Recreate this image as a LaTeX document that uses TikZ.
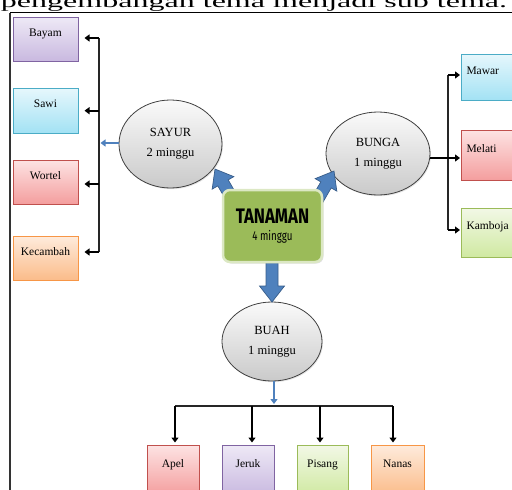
\documentclass[tikz,border=0pt]{standalone}
\usepackage{fontspec}
\setmainfont{Liberation Serif}
\newfontfamily\tanfont{Fira Sans}
\usetikzlibrary{arrows.meta,shadows,shapes.geometric}
\definecolor{pBorder}{HTML}{8064A2}\definecolor{pTop}{HTML}{EEE9F6}\definecolor{pBot}{HTML}{C9B9E0}
\definecolor{bBorder}{HTML}{4BACC6}\definecolor{bTop}{HTML}{E6F7FC}\definecolor{bBot}{HTML}{A3E2F4}
\definecolor{rBorder}{HTML}{C0504D}\definecolor{rTop}{HTML}{FDE3E3}\definecolor{rBot}{HTML}{F49E9E}
\definecolor{oBorder}{HTML}{F79646}\definecolor{oTop}{HTML}{FEEBDC}\definecolor{oBot}{HTML}{FBBC8A}
\definecolor{gBorder}{HTML}{9BBB59}\definecolor{gTop}{HTML}{F2F8E6}\definecolor{gBot}{HTML}{D0E9A2}
\definecolor{arrBlue}{HTML}{4F81BD}\definecolor{arrEdge}{HTML}{385D8A}
\definecolor{tanFill}{HTML}{9BBB59}\definecolor{tanEdge}{HTML}{DCE8C4}
\tikzset{
  leaf/.style={draw=#1Border, line width=1pt, top color=#1Top, bottom color=#1Bot,
    inner sep=0pt, text height=8pt, text depth=14pt, text=black,
    font=\fontsize{11.5}{12}\selectfont,
    drop shadow={opacity=0.2, shadow xshift=1pt, shadow yshift=-1.2pt}},
  leftleaf/.style={leaf=#1, text width=58pt, align=left, inner xsep=5pt, anchor=west},
  ell/.style={ellipse, draw=black!75, line width=0.8pt, top color=gray!4, bottom color=gray!42,
    align=center, inner sep=0pt, text=black, font=\fontsize{12.5}{20}\selectfont,
    drop shadow={opacity=0.2, shadow xshift=1pt, shadow yshift=-1.2pt}},
  tanbox/.style={rounded corners=7pt, fill=tanFill, draw=tanEdge, line width=2.5pt,
    align=center, inner sep=0pt,
    drop shadow={opacity=0.25, shadow xshift=1.5pt, shadow yshift=-1.5pt}},
  blockarr/.style={fill=arrBlue, draw=arrEdge, line width=0.7pt, line join=miter},
  blk/.style={draw=black, line width=1.6pt, -{Triangle[length=5pt,width=7pt]}},
  spine/.style={draw=black!85, line width=1.3pt},
  bluearr/.style={draw=arrBlue, line width=1.8pt, -{Triangle[length=5pt,width=7pt]}}
}
% block arrow: #1 tail point, #2 angle, #3 length
\newcommand{\blockarrowdraw}[3]{%
  \begin{scope}[shift={#1}, rotate=#2]
    \path[blockarr] (0,-6) -- (#3-16,-6) -- (#3-16,-12.5) -- (#3,0) -- (#3-16,12.5)
      -- (#3-16,6) -- (0,6) -- cycle;
  \end{scope}}
\begin{document}
\begin{tikzpicture}[x=1pt,y=-1pt]
\useasboundingbox (0,0) rectangle (512,490);
% title (cut off at top)
\node[anchor=base, inner sep=0pt] (title) at (254,7)
  {\scalebox{2.67}[1.5]{\fontsize{12}{12}\selectfont pengembangan tema menjadi sub tema.}};
% frame
\draw[line width=1.3pt] (10,12.5) -- (512,12.5);
\draw[line width=2pt, black!80] (10,12.5) -- (10,490);

% left leaves
\node[leaf=p, minimum width=65pt, minimum height=44pt] (bayam) at (45.5,39) {Bayam};
\node[leaf=b, minimum width=65pt, minimum height=45pt] (sawi) at (45.5,110.5) {Sawi};
\node[leaf=r, minimum width=65pt, minimum height=44pt] (wortel) at (45.5,182) {Wortel};
\node[leaf=o, minimum width=65pt, minimum height=44pt] (kecambah) at (45.5,258) {Kecambah};

% right leaves
\node[leftleaf=b, minimum height=46pt] (mawar) at (461,77) {Mawar};
\node[leftleaf=r, minimum height=50pt] (melati) at (461,155) {Melati};
\node[leftleaf=g, minimum height=49pt] (kamboja) at (461,232.5) {Kamboja};

% bottom leaves
\node[leaf=r, minimum width=52pt, minimum height=50pt] (apel) at (173,470) {Apel};
\node[leaf=p, minimum width=52pt, minimum height=50pt] (jeruk) at (248,470) {Jeruk};
\node[leaf=g, minimum width=51pt, minimum height=50pt] (pisang) at (322.5,470) {Pisang};
\node[leaf=o, minimum width=53pt, minimum height=50pt] (nanas) at (397.5,470) {Nanas};

% sub-theme ellipses
\node[ell, minimum width=103pt, minimum height=88pt] (sayur) at (170.5,144) {SAYUR\\2 minggu};
\node[ell, minimum width=104pt, minimum height=83pt] (bunga) at (378,153.5) {BUNGA\\1 minggu};
\node[ell, minimum width=100pt, minimum height=79pt] (buah) at (272,341.5) {BUAH\\1 minggu};

% block arrows from the main theme
\blockarrowdraw{(239,210.6)}{120}{48}
\blockarrowdraw{(310,212.6)}{60}{48}
\blockarrowdraw{(272,250)}{-90}{52}

% main theme
\node[tanbox, minimum width=99pt, minimum height=72pt] (tanaman) at (272.5,226)
  {\scalebox{0.8}[1]{\tanfont\bfseries\fontsize{21}{21}\selectfont TANAMAN}\\[5pt]
   \scalebox{0.75}[1]{\tanfont\fontsize{13}{13}\selectfont 4 minggu}};

% left connectors
\coordinate (l1) at (99,38);
\coordinate (l2) at (99,110.7);
\coordinate (l3) at (99,184);
\coordinate (l4) at (99,252);
\coordinate (lm) at (99,143);
\draw[spine] (l1) -- (l4);
\draw[blk, shorten >=6pt] (l1) -- (l1 -| bayam.east);
\draw[blk, shorten >=6pt] (l2) -- (l2 -| sawi.east);
\draw[blk, shorten >=6pt] (l3) -- (l3 -| wortel.east);
\draw[blk, shorten >=6pt] (l4) -- (l4 -| kecambah.east);
\draw[bluearr, shorten >=1.5pt] (sayur.west |- lm) -- (lm);

% right connectors
\coordinate (r1) at (448,75);
\coordinate (r2) at (448,158);
\coordinate (r3) at (448,230);
\draw[spine] (r1) -- (r3);
\draw[blk, shorten >=1pt] (r1) -- (r1 -| mawar.west);
\draw[blk, line width=2pt, shorten >=1pt] (bunga.east |- r2) -- (r2 -| melati.west);
\draw[blk, shorten >=1pt] (r3) -- (r3 -| kamboja.west);

% bottom connectors
\coordinate (b1) at (175,406);
\coordinate (b2) at (252,406);
\coordinate (b3) at (320,406);
\coordinate (b4) at (393,406);
\coordinate (bm) at (274,406);
\draw[spine] (b1) -- (b4);
\draw[bluearr, shorten >=2pt] (bm |- buah.south) -- (bm);
\draw[blk, shorten >=2pt] (b1) -- (b1 |- apel.north);
\draw[blk, shorten >=2pt] (b2) -- (b2 |- jeruk.north);
\draw[blk, shorten >=2pt] (b3) -- (b3 |- pisang.north);
\draw[blk, shorten >=2pt] (b4) -- (b4 |- nanas.north);
\end{tikzpicture}
\end{document}
